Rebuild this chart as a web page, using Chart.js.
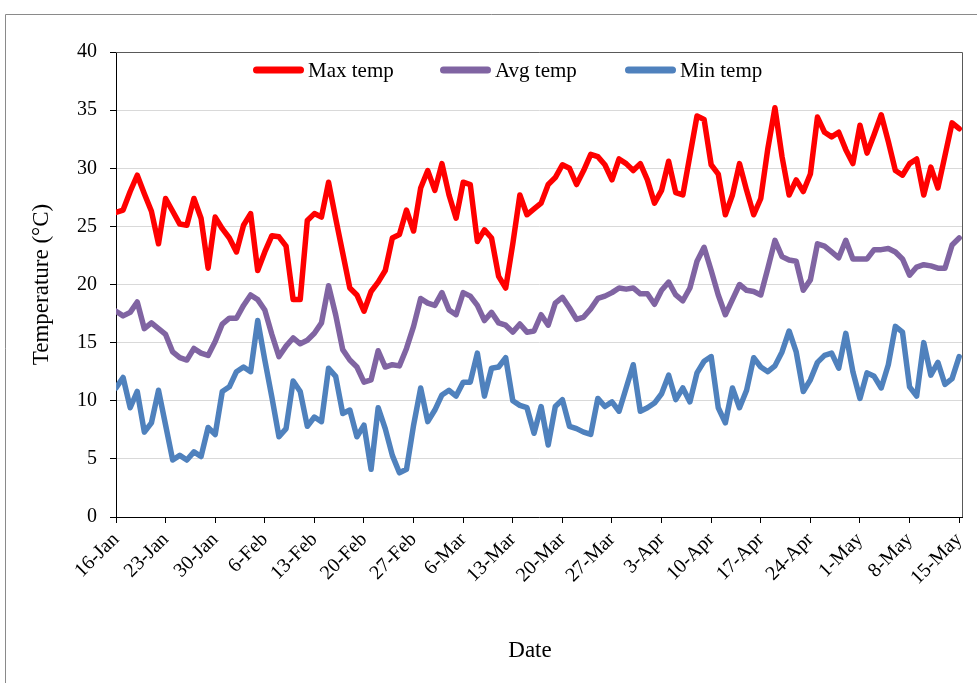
<!DOCTYPE html>
<html>
<head>
<meta charset="utf-8">
<script src="https://cdn.jsdelivr.net/npm/chart.js@4.4.0/dist/chart.umd.min.js"></script>
<style>
  html, body { margin: 0; padding: 0; background: #ffffff; }
  #wrap { position: relative; width: 977px; height: 683px; }
  canvas { display: block; }
</style>
</head>
<body>
<div id="wrap"><canvas id="chart" width="977" height="683"></canvas></div>
<script>
// Weekly tick labels along the date axis (one per 7 days, starting 16-Jan)
const weekLabels = ['16-Jan', '23-Jan', '30-Jan', '6-Feb', '13-Feb', '20-Feb', '27-Feb', '6-Mar', '13-Mar',
  '20-Mar', '27-Mar', '3-Apr', '10-Apr', '17-Apr', '24-Apr', '1-May', '8-May', '15-May'];

// Daily temperatures (°C), 16-Jan to 15-May
const maxTemp = [
  26.2, 26.4, 28.0, 29.4, 27.8, 26.3, 23.5, 27.4, 26.3, 25.2,
  25.1, 27.4, 25.7, 21.4, 25.8, 24.8, 24.0, 22.8, 25.1, 26.1,
  21.2, 22.8, 24.2, 24.1, 23.3, 18.7, 18.7, 25.5, 26.1, 25.8,
  28.8, 25.7, 22.7, 19.7, 19.1, 17.7, 19.4, 20.2, 21.2, 24.0,
  24.3, 26.4, 24.6, 28.3, 29.8, 28.1, 30.4, 27.7, 25.7, 28.8,
  28.6, 23.7, 24.7, 24.0, 20.7, 19.7, 23.5, 27.7, 26.0, 26.5,
  27.0, 28.6, 29.2, 30.3, 30.0, 28.6, 29.8, 31.2, 31.0, 30.3,
  29.0, 30.8, 30.4, 29.8, 30.4, 29.0, 27.0, 28.1, 30.6, 27.9,
  27.7, 31.1, 34.5, 34.2, 30.3, 29.5, 26.0, 27.7, 30.4, 28.1,
  26.0, 27.4, 31.7, 35.2, 31.0, 27.7, 29.0, 28.0, 29.5, 34.4,
  33.1, 32.7, 33.1, 31.6, 30.4, 33.7, 31.3, 32.9, 34.6, 32.3,
  29.8, 29.4, 30.4, 30.8, 27.7, 30.1, 28.3, 31.1, 33.9, 33.4
];
const avgTemp = [
  17.7, 17.3, 17.6, 18.5, 16.2, 16.7, 16.2, 15.7, 14.2, 13.7,
  13.5, 14.5, 14.1, 13.9, 15.1, 16.6, 17.1, 17.1, 18.2, 19.1,
  18.7, 17.8, 15.7, 13.8, 14.7, 15.4, 14.9, 15.2, 15.8, 16.7,
  19.9, 17.4, 14.4, 13.5, 12.9, 11.6, 11.8, 14.3, 12.9, 13.1,
  13.0, 14.5, 16.4, 18.8, 18.4, 18.2, 19.3, 17.8, 17.4, 19.3,
  19.0, 18.2, 16.9, 17.6, 16.7, 16.5, 15.9, 16.6, 15.9, 16.0,
  17.4, 16.5, 18.4, 18.9, 18.0, 17.0, 17.2, 17.9, 18.8, 19.0,
  19.3, 19.7, 19.6, 19.7, 19.2, 19.2, 18.3, 19.5, 20.2, 19.1,
  18.6, 19.7, 22.0, 23.2, 21.2, 19.1, 17.4, 18.7, 20.0, 19.5,
  19.4, 19.1, 21.4, 23.8, 22.4, 22.1, 22.0, 19.5, 20.4, 23.5,
  23.3, 22.8, 22.3, 23.8, 22.2, 22.2, 22.2, 23.0, 23.0, 23.1,
  22.8, 22.2, 20.8, 21.5, 21.7, 21.6, 21.4, 21.4, 23.4, 24.0
];
const minTemp = [
  11.1, 12.0, 9.4, 10.8, 7.3, 8.1, 10.9, 7.9, 4.9, 5.3,
  4.9, 5.6, 5.2, 7.7, 7.1, 10.8, 11.2, 12.5, 12.9, 12.5,
  16.9, 13.5, 10.3, 6.9, 7.6, 11.7, 10.8, 7.8, 8.6, 8.2,
  12.8, 12.1, 8.9, 9.2, 6.9, 7.9, 4.1, 9.4, 7.6, 5.3,
  3.8, 4.1, 7.9, 11.1, 8.2, 9.2, 10.5, 10.9, 10.4, 11.6,
  11.6, 14.1, 10.4, 12.8, 12.9, 13.7, 10.0, 9.6, 9.4, 7.2,
  9.5, 6.2, 9.5, 10.1, 7.8, 7.6, 7.3, 7.1, 10.2, 9.5,
  9.9, 9.1, 11.1, 13.1, 9.1, 9.4, 9.8, 10.6, 12.2, 10.1,
  11.1, 9.9, 12.4, 13.4, 13.8, 9.4, 8.1, 11.1, 9.4, 10.9,
  13.7, 12.9, 12.5, 13.0, 14.2, 16.0, 14.2, 10.8, 11.8, 13.3,
  13.9, 14.1, 12.8, 15.8, 12.5, 10.2, 12.4, 12.1, 11.1, 13.1,
  16.4, 15.9, 11.2, 10.4, 15.0, 12.2, 13.3, 11.4, 11.9, 13.8
];

const seriesNames = ['Max temp', 'Avg temp', 'Min temp'];
const seriesColors = ['#FF0000', '#8064A2', '#4F81BD'];
const seriesValues = [maxTemp, avgTemp, minTemp];

const xTitle = 'Date';
const yTitle = 'Temperature (°C)';

const SERIF = "'Liberation Serif', 'Times New Roman', serif";

// Day index -> {x, y} points for the linear date axis
const toPoints = (arr) => arr.map((v, i) => ({ x: i, y: v }));

// Outer frame, plot border, x-axis title and the in-plot legend
const decorations = {
  id: 'decorations',
  beforeDraw(chart) {
    const ctx = chart.ctx;
    ctx.save();
    ctx.fillStyle = '#ffffff';
    ctx.fillRect(0, 0, chart.width, chart.height);
    ctx.restore();
  },
  afterDraw(chart) {
    const { ctx, chartArea } = chart;
    const { top, right, bottom, left } = chartArea;
    ctx.save();
    // outer frame
    ctx.strokeStyle = '#8a8a8a';
    ctx.lineWidth = 1;
    ctx.beginPath();
    ctx.moveTo(5.5, chart.height);
    ctx.lineTo(5.5, 14.5);
    ctx.lineTo(chart.width, 14.5);
    ctx.stroke();
    // plot area top / right border
    ctx.strokeStyle = '#595959';
    ctx.beginPath();
    ctx.moveTo(left, Math.round(top) + 0.5);
    ctx.lineTo(Math.round(right) + 0.5, Math.round(top) + 0.5);
    ctx.lineTo(Math.round(right) + 0.5, bottom);
    ctx.stroke();
    // x-axis title
    ctx.fillStyle = '#000000';
    ctx.font = '23px ' + SERIF;
    ctx.textAlign = 'center';
    ctx.textBaseline = 'middle';
    ctx.fillText(xTitle, 530, 651);
    // legend
    const starts = [253, 440, 625];
    const ly = 70;
    ctx.font = '21px ' + SERIF;
    ctx.textAlign = 'left';
    chart.data.datasets.forEach((ds, i) => {
      const x0 = starts[i];
      ctx.strokeStyle = ds.borderColor;
      ctx.lineWidth = 7;
      ctx.lineCap = 'round';
      ctx.beginPath();
      ctx.moveTo(x0 + 3.5, ly);
      ctx.lineTo(x0 + 47.5, ly);
      ctx.stroke();
      ctx.fillStyle = '#000000';
      ctx.fillText(ds.label, x0 + 55, ly + 1);
    });
    ctx.restore();
  }
};

const datasets = seriesValues.map((vals, i) => ({
  label: seriesNames[i],
  data: toPoints(vals),
  borderColor: seriesColors[i],
  backgroundColor: seriesColors[i],
  borderWidth: 5.5,
  borderJoinStyle: 'round',
  borderCapStyle: 'round',
  pointRadius: 0,
  pointHoverRadius: 0,
  tension: 0,
  fill: false
}));

new Chart(document.getElementById('chart'), {
  type: 'line',
  data: { datasets },
  options: {
    responsive: false,
    animation: false,
    devicePixelRatio: 1,
    layout: { padding: { top: 52, right: 15, bottom: 0, left: 0 } },
    plugins: {
      legend: { display: false },
      tooltip: { enabled: false },
      title: { display: false }
    },
    scales: {
      x: {
        type: 'linear',
        min: 0,
        max: 119.4,
        afterFit(scale) {
          scale.height = 166;
          scale.paddingLeft = 0;
          scale.paddingRight = 0;
        },
        ticks: {
          stepSize: 7,
          includeBounds: false,
          autoSkip: false,
          maxRotation: 45,
          minRotation: 45,
          padding: 5,
          color: '#000000',
          font: { family: SERIF, size: 20 },
          callback: (v) => weekLabels[Math.round(v / 7)] ?? ''
        },
        grid: {
          drawOnChartArea: false,
          drawTicks: true,
          tickLength: 6,
          tickColor: '#000000'
        },
        border: { display: true, color: '#000000', width: 1 },
        title: { display: false }
      },
      y: {
        min: 0,
        max: 40,
        afterFit(scale) {
          scale.width = 116;
          scale.paddingTop = 0;
          scale.paddingBottom = 0;
        },
        ticks: {
          stepSize: 5,
          padding: 13,
          color: '#000000',
          font: { family: SERIF, size: 20 }
        },
        grid: {
          color: '#d9d9d9',
          lineWidth: 1,
          tickLength: 6,
          tickColor: '#000000'
        },
        border: { display: true, color: '#000000', width: 1 },
        title: {
          display: true,
          text: yTitle,
          color: '#000000',
          font: { family: SERIF, size: 23 },
          padding: { top: 28, bottom: 0 }
        }
      }
    }
  },
  plugins: [decorations]
});
</script>
</body>
</html>
